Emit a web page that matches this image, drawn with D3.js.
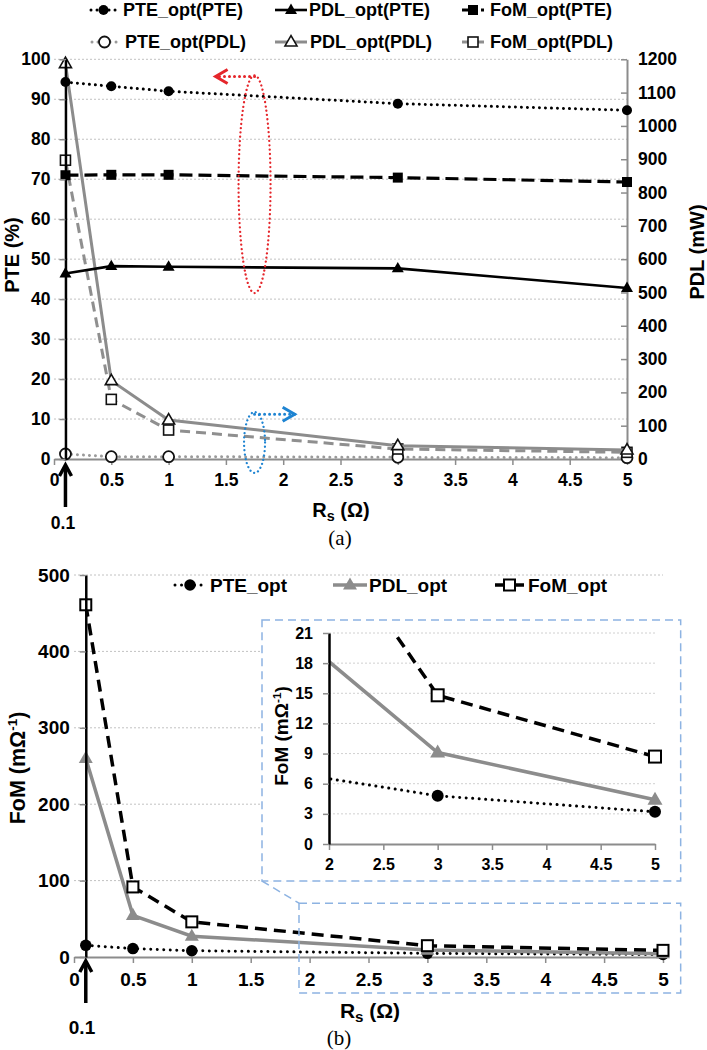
<!DOCTYPE html>
<html><head><meta charset="utf-8">
<script src="https://cdn.jsdelivr.net/npm/d3@7"></script>
<style>
body{margin:0;background:#fff}
svg text{font-family:"Liberation Sans",Arial,sans-serif;font-weight:bold;fill:#000}
svg text.serif{font-family:"Liberation Serif","Times New Roman",serif;font-weight:normal}
</style></head><body>
<svg id="c" width="707" height="1050"></svg>
<script>
// ---------------- DATA ----------------
const rs = [0.1, 0.5, 1, 3, 5];                 // Rs (Ω)
const rsTicks = [0, 0.5, 1, 1.5, 2, 2.5, 3, 3.5, 4, 4.5, 5];
const insetTicksX = [2, 2.5, 3, 3.5, 4, 4.5, 5];
const pteTicks = [0, 10, 20, 30, 40, 50, 60, 70, 80, 90, 100];
const pdlTicks = [0, 100, 200, 300, 400, 500, 600, 700, 800, 900, 1000, 1100, 1200];
const fomTicks = [0, 100, 200, 300, 400, 500];
const insetTicksY = [0, 3, 6, 9, 12, 15, 18, 21];
// (a) PTE (%) – left axis
const pteOptPTE = [94.3, 93.25, 92.0, 88.9, 87.25];
const pdlOptPTE = [46.4, 48.25, 48.1, 47.7, 42.8];
const fomOptPTE = [71.0, 71.1, 71.1, 70.4, 69.3];
// (a) PDL (mW) – right axis
const pteOptPDL = [15, 7, 7, 5, 4];
const pdlOptPDL = [1187, 235, 117, 40, 27];
const fomOptPDL = [897, 179, 87, 30, 20];
// (b) FoM (mΩ^-1)
const pteOpt = [15.3, 11.0, 8.2, 4.8, 3.2];
const pdlOpt = [260, 54.6, 27.2, 9.1, 4.4];
const fomOpt = [461, 91.7, 46, 14.8, 8.7];

// ---------------- HELPERS ----------------
const svg = d3.select("#c");
svg.append("rect").attr("width", 707).attr("height", 1050).attr("fill", "#fff");
const GRAY = "#8c8c8c", GRID = "#c2c2c2";
const fmtInt = d3.format("d");

function drawMarker(g, st, x, y) {
  const s = st.ms;
  let el;
  if (st.marker === "circle") {
    el = g.append("circle").attr("cx", x).attr("cy", y).attr("r", s / 2);
  } else if (st.marker === "square") {
    el = g.append("rect").attr("x", x - s / 2).attr("y", y - s / 2).attr("width", s).attr("height", s);
  } else {
    const h = s * 0.866;
    el = g.append("path").attr("d", `M${x},${y - h * 0.62}L${x - s / 2},${y + h * 0.38}L${x + s / 2},${y + h * 0.38}Z`);
  }
  el.attr("fill", st.mfill).attr("stroke", st.mstroke || "none").attr("stroke-width", st.msw || 0);
}
function styleLine(p, st) {
  p.attr("fill", "none").attr("stroke", st.color).attr("stroke-width", st.w)
   .attr("stroke-dasharray", st.dash || null).attr("stroke-linecap", st.cap || "butt");
}
function drawSeries(g, xS, yS, ys, st) {
  const line = d3.line().x((d, i) => xS(rs[i])).y(d => yS(d));
  styleLine(g.append("path").datum(ys).attr("d", line), st);
  ys.forEach((v, i) => drawMarker(g, st, xS(rs[i]), yS(v)));
}
function legendItem(g, x1, x2, y, st, tx, label, fs) {
  styleLine(g.append("line").attr("x1", x1).attr("x2", x2).attr("y1", y).attr("y2", y), st);
  drawMarker(g, st, (x1 + x2) / 2, y);
  g.append("text").attr("x", tx).attr("y", y).attr("dy", "0.36em").attr("font-size", fs).text(label);
}
function styleAxis(a, fs, domColor, domW, tickColor) {
  a.attr("font-family", null).attr("font-size", null);
  a.selectAll("text").attr("font-size", fs).attr("fill", "#000");
  a.select(".domain").attr("stroke", domColor).attr("stroke-width", domW);
  a.selectAll(".tick line").attr("stroke", tickColor).attr("stroke-width", 1.5);
}
function upArrow(g, x, yTop, yBot) {
  g.append("line").attr("x1", x).attr("x2", x).attr("y1", yTop + 2).attr("y2", yBot)
   .attr("stroke", "#000").attr("stroke-width", 3.5);
  g.append("path").attr("d", `M${x - 6},${yTop + 11}L${x},${yTop}L${x + 6},${yTop + 11}`)
   .attr("fill", "none").attr("stroke", "#000").attr("stroke-width", 3.5).attr("stroke-linejoin", "miter");
}
function rsLabel(g, cx, cy, fs) {
  const t = g.append("text").attr("x", cx).attr("y", cy).attr("dy", "0.36em")
    .attr("text-anchor", "middle").attr("font-size", fs);
  t.append("tspan").text("R");
  t.append("tspan").attr("font-size", fs * 0.72).attr("dy", 4).text("s");
  t.append("tspan").attr("dy", -4).text(" (Ω)");
}
function fomTitle(g, x, y, fs) {
  const t = g.append("text").attr("transform", `translate(${x},${y}) rotate(-90)`)
    .attr("text-anchor", "middle").attr("dy", "0.36em").attr("font-size", fs);
  t.append("tspan").text("FoM (mΩ");
  t.append("tspan").attr("font-size", fs * 0.62).attr("dy", -fs * 0.38).text("-1");
  t.append("tspan").attr("dy", fs * 0.38).text(")");
}

// ---------------- CHART (a) ----------------
const gA = svg.append("g");
const xA = d3.scaleLinear().domain([0, 5]).range([54, 627]);
const yA = d3.scaleLinear().domain([0, 100]).range([459, 59.3]);
const yA2 = d3.scaleLinear().domain([0, 1200]).range([459, 59.3]);

pteTicks.filter(t => t > 0).forEach(t => {
  gA.append("line").attr("x1", xA(0)).attr("x2", xA(5)).attr("y1", yA(t)).attr("y2", yA(t))
    .attr("stroke", GRID).attr("stroke-width", 1).attr("stroke-dasharray", "2,2");
});
const axAx = gA.append("g").attr("transform", `translate(0,${yA(0)})`)
  .call(d3.axisBottom(xA).tickValues(rsTicks).tickSize(6).tickSizeOuter(0).tickPadding(9).tickFormat(d => String(d)));
styleAxis(axAx, 17.5, GRAY, 2, GRAY);
const axAr = gA.append("g").attr("transform", `translate(${xA(5)},0)`)
  .call(d3.axisRight(yA2).tickValues(pdlTicks).tickSizeInner(-6).tickSizeOuter(0).tickPadding(11).tickFormat(fmtInt));
styleAxis(axAr, 17.5, GRAY, 2, GRAY);

const stA = {
  pteP: { color: "#000", w: 3, dash: "0.01 6", cap: "round", marker: "circle", ms: 10, mfill: "#000" },
  pdlP: { color: "#000", w: 2.6, marker: "tri", ms: 12, mfill: "#000" },
  fomP: { color: "#000", w: 3.2, dash: "13 6", marker: "square", ms: 10, mfill: "#000" },
  pteD: { color: "#9a9a9a", w: 3, dash: "0.01 6", cap: "round", marker: "circle", ms: 11, mfill: "#fff", mstroke: "#111", msw: 1.8 },
  pdlD: { color: GRAY, w: 3, marker: "tri", ms: 12, mfill: "#fff", mstroke: "#111", msw: 1.6 },
  fomD: { color: "#8f8f8f", w: 3, dash: "10 6", marker: "square", ms: 10, mfill: "#fff", mstroke: "#111", msw: 1.6 }
};
drawSeries(gA, xA, yA2, pteOptPDL, stA.pteD);
drawSeries(gA, xA, yA2, fomOptPDL, stA.fomD);
drawSeries(gA, xA, yA2, pdlOptPDL, stA.pdlD);
drawSeries(gA, xA, yA, pdlOptPTE, stA.pdlP);
drawSeries(gA, xA, yA, fomOptPTE, stA.fomP);
drawSeries(gA, xA, yA, pteOptPTE, stA.pteP);

const axAl = gA.append("g").attr("transform", `translate(${xA(0.1)},0)`)
  .call(d3.axisLeft(yA).tickValues(pteTicks).tickSize(6).tickSizeOuter(0).tickPadding(9).tickFormat(fmtInt));
styleAxis(axAl, 17.5, "#000", 2.5, GRAY);

// annotations (a)
const RED = "#e5262b", BLUE = "#1e84d2";
function ellipseArrow(g, cx, yTop, yBot, rx, color, arrowTo, arrowY) {
  g.append("ellipse").attr("cx", cx).attr("cy", (yTop + yBot) / 2).attr("rx", rx).attr("ry", (yBot - yTop) / 2)
    .attr("fill", "none").attr("stroke", color).attr("stroke-width", 2.3)
    .attr("stroke-dasharray", "0.01 4.3").attr("stroke-linecap", "round");
  g.append("line").attr("x1", cx).attr("x2", arrowTo).attr("y1", arrowY).attr("y2", arrowY)
    .attr("stroke", color).attr("stroke-width", 3).attr("stroke-dasharray", "0.01 5").attr("stroke-linecap", "round");
  const dir = arrowTo < cx ? 1 : -1;
  g.append("path").attr("d", `M${arrowTo + dir * 12},${arrowY - 7}L${arrowTo},${arrowY}L${arrowTo + dir * 12},${arrowY + 7}`)
    .attr("fill", "none").attr("stroke", color).attr("stroke-width", 3);
}
ellipseArrow(gA, xA(1.75), yA(96), yA(41.5), 16, RED, xA(1.41), yA(95.7));
ellipseArrow(gA, xA(1.75), yA(11.75), yA(-3.5), 10.5, BLUE, xA(2.1), yA(11.2));

gA.append("text").attr("transform", `translate(12,255) rotate(-90)`).attr("text-anchor", "middle")
  .attr("dy", "0.36em").attr("font-size", 20).text("PTE (%)");
gA.append("text").attr("transform", `translate(697,252) rotate(-90)`).attr("text-anchor", "middle")
  .attr("dy", "0.36em").attr("font-size", 20).text("PDL (mW)");
upArrow(gA, xA(0.1), 465, 507);
gA.append("text").attr("x", 63).attr("y", 523).attr("dy", "0.36em").attr("text-anchor", "middle")
  .attr("font-size", 17.5).text("0.1");
rsLabel(gA, 341, 510, 20);
gA.append("text").attr("class", "serif").attr("x", 340).attr("y", 545).attr("text-anchor", "middle")
  .attr("font-size", 21).text("(a)");

// legend (a)
const lgA = svg.append("g");
legendItem(lgA, 91, 116, 10, stA.pteP, 123, "PTE_opt(PTE)", 18);
legendItem(lgA, 275, 307, 10, stA.pdlP, 309, "PDL_opt(PTE)", 18);
legendItem(lgA, 462, 484, 10, stA.fomP, 490, "FoM_opt(PTE)", 18);
legendItem(lgA, 92, 117, 42, stA.pteD, 125, "PTE_opt(PDL)", 18);
legendItem(lgA, 275, 307, 42, stA.pdlD, 310, "PDL_opt(PDL)", 18);
legendItem(lgA, 462, 484, 42, stA.fomD, 490, "FoM_opt(PDL)", 18);

// ---------------- CHART (b) ----------------
const gB = svg.append("g");
const xB = d3.scaleLinear().domain([0, 5]).range([74, 663]);
const yB = d3.scaleLinear().domain([0, 500]).range([957, 575]);
fomTicks.filter(t => t > 0).forEach(t => {
  gB.append("line").attr("x1", xB(0)).attr("x2", xB(5)).attr("y1", yB(t)).attr("y2", yB(t))
    .attr("stroke", GRID).attr("stroke-width", 1).attr("stroke-dasharray", "2,2");
});
const axBx = gB.append("g").attr("transform", `translate(0,${yB(0)})`)
  .call(d3.axisBottom(xB).tickValues(rsTicks).tickSize(6).tickSizeOuter(0).tickPadding(10).tickFormat(d => String(d)));
styleAxis(axBx, 19, GRAY, 2, GRAY);

const stB = {
  pte: { color: "#000", w: 3, dash: "0.01 6.5", cap: "round", marker: "circle", ms: 11.5, mfill: "#000" },
  pdl: { color: GRAY, w: 3.5, marker: "tri", ms: 14, mfill: GRAY },
  fom: { color: "#000", w: 3.5, dash: "12 7", marker: "square", ms: 11, mfill: "#fff", mstroke: "#000", msw: 2 }
};
drawSeries(gB, xB, yB, pteOpt, stB.pte);
drawSeries(gB, xB, yB, pdlOpt, stB.pdl);
drawSeries(gB, xB, yB, fomOpt, stB.fom);

const axBl = gB.append("g").attr("transform", `translate(${xB(0.1)},0)`)
  .call(d3.axisLeft(yB).tickValues(fomTicks).tickSize(6).tickSizeOuter(0).tickPadding(10).tickFormat(fmtInt));
styleAxis(axBl, 19, "#000", 2.5, GRAY);

fomTitle(gB, 17, 768, 21.5);
upArrow(gB, xB(0.1), 961, 1003);
gB.append("text").attr("x", 82).attr("y", 1027).attr("dy", "0.36em").attr("text-anchor", "middle")
  .attr("font-size", 19).text("0.1");
rsLabel(gB, 370, 1010, 21);
gB.append("text").attr("class", "serif").attr("x", 339).attr("y", 1045).attr("text-anchor", "middle")
  .attr("font-size", 21).text("(b)");

// legend (b)
legendItem(gB, 175, 205, 585, stB.pte, 210, "PTE_opt", 19);
legendItem(gB, 333, 367, 585, stB.pdl, 369, "PDL_opt", 19);
legendItem(gB, 495, 524, 585, stB.fom, 528, "FoM_opt", 19);

// zoom boxes
const BOX = "#8db3e2";
gB.append("rect").attr("x", xB(1.91)).attr("y", yB(70.5)).attr("width", xB(5.15) - xB(1.91)).attr("height", yB(-47) - yB(70.5))
  .attr("fill", "none").attr("stroke", BOX).attr("stroke-width", 1.5).attr("stroke-dasharray", "8,5");
gB.append("line").attr("x1", 262).attr("y1", 881).attr("x2", xB(1.91)).attr("y2", yB(70.5))
  .attr("stroke", BOX).attr("stroke-width", 1.5).attr("stroke-dasharray", "8,5");
gB.append("rect").attr("x", 262).attr("y", 620).attr("width", xB(5.15) - 262).attr("height", 261)
  .attr("fill", "#fff").attr("stroke", BOX).attr("stroke-width", 1.5).attr("stroke-dasharray", "8,5");

// inset
const gI = svg.append("g");
const xI = d3.scaleLinear().domain([2, 5]).range([329, 655]);
const yI = d3.scaleLinear().domain([0, 21]).range([844, 633]);
insetTicksY.filter(t => t > 0).forEach(t => {
  gI.append("line").attr("x1", xI(2)).attr("x2", xI(5)).attr("y1", yI(t)).attr("y2", yI(t))
    .attr("stroke", "#d0d0d0").attr("stroke-width", 1).attr("stroke-dasharray", "2,2");
});
const axIx = gI.append("g").attr("transform", `translate(0,${yI(0)})`)
  .call(d3.axisBottom(xI).tickValues(insetTicksX).tickSize(6).tickSizeOuter(0).tickPadding(9).tickFormat(d => String(d)));
styleAxis(axIx, 16, GRAY, 2, GRAY);
svg.append("defs").append("clipPath").attr("id", "clipI").append("rect")
  .attr("x", xI(2)).attr("y", yI(21)).attr("width", xI(5) - xI(2) + 10).attr("height", yI(0) - yI(21));
const gIc = gI.append("g").attr("clip-path", "url(#clipI)");
const stI = {
  pte: Object.assign({}, stB.pte, { ms: 12 }),
  pdl: Object.assign({}, stB.pdl, { ms: 15 }),
  fom: Object.assign({}, stB.fom, { ms: 12 })
};
drawSeries(gIc, xI, yI, pteOpt, stI.pte);
drawSeries(gIc, xI, yI, pdlOpt, stI.pdl);
drawSeries(gIc, xI, yI, fomOpt, stI.fom);
const axIl = gI.append("g").attr("transform", `translate(${xI(2)},0)`)
  .call(d3.axisLeft(yI).tickValues(insetTicksY).tickSize(6).tickSizeOuter(0).tickPadding(10).tickFormat(fmtInt));
styleAxis(axIl, 16, "#000", 2.5, GRAY);
fomTitle(gI, 281, 736, 19);
</script>
</body></html>
